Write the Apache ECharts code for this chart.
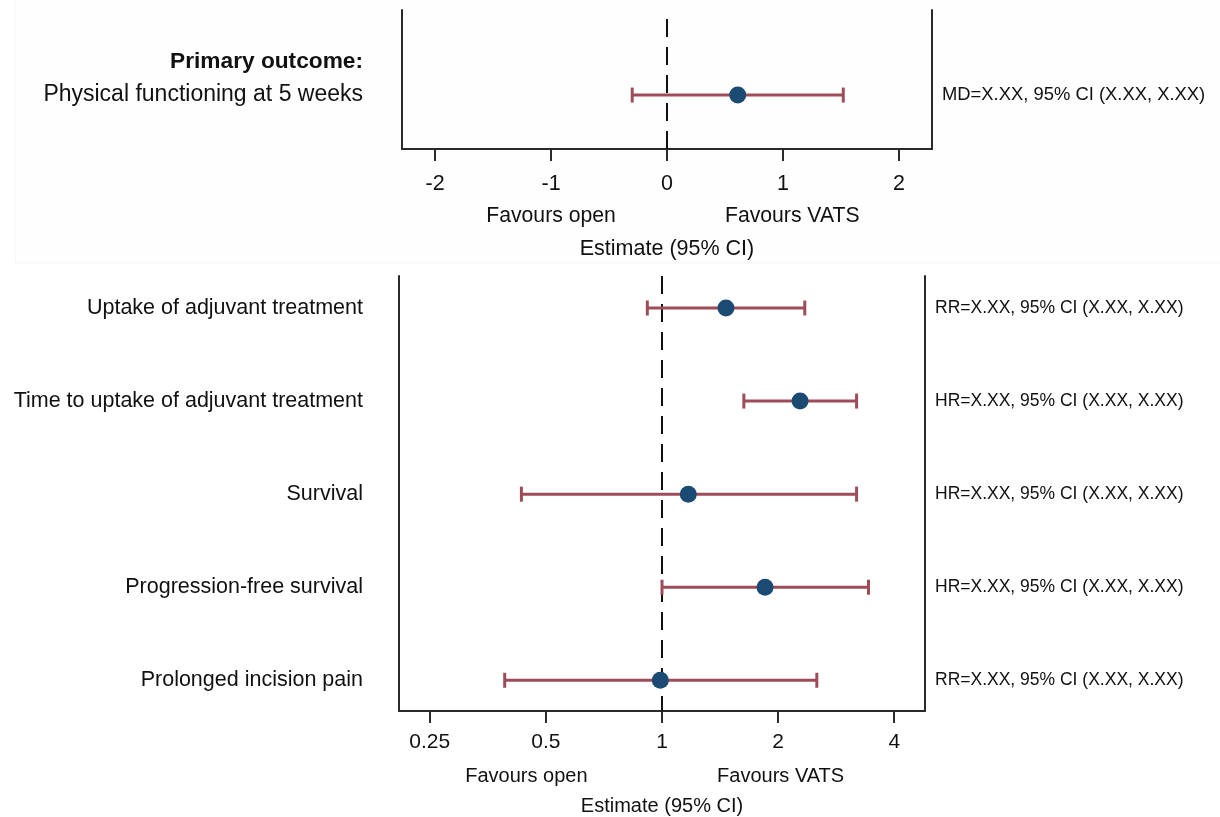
<!DOCTYPE html>
<html>
<head>
<meta charset="utf-8">
<script src="https://cdn.jsdelivr.net/npm/echarts@6/dist/echarts.min.js"></script>
<style>
  html, body { margin: 0; padding: 0; background: #ffffff; }
  #chart { width: 1220px; height: 817px; }
</style>
</head>
<body>
<div id="chart"></div>
<script>
// ---- Primary outcome (mean difference scale) ----
const primaryHeader = 'Primary outcome:';
const primaryOutcome = ['Physical functioning at 5 weeks'];
const primaryEstimate = [0.61];
const primaryLower = [-0.30];
const primaryUpper = [1.52];
const primaryStats = ['MD=X.XX, 95% CI (X.XX, X.XX)'];
const primaryTicks = [-2, -1, 0, 1, 2];

// ---- Secondary outcomes (ratio scale, log2 positions) ----
const outcomes = [
  'Uptake of adjuvant treatment',
  'Time to uptake of adjuvant treatment',
  'Survival',
  'Progression-free survival',
  'Prolonged incision pain'
];
const estimates = [1.465, 2.28, 1.17, 1.85, 0.99];
const lower = [0.916, 1.63, 0.432, 1.00, 0.391];
const upper = [2.345, 3.195, 3.195, 3.43, 2.52];
const stats = [
  'RR=X.XX, 95% CI (X.XX, X.XX)',
  'HR=X.XX, 95% CI (X.XX, X.XX)',
  'HR=X.XX, 95% CI (X.XX, X.XX)',
  'HR=X.XX, 95% CI (X.XX, X.XX)',
  'RR=X.XX, 95% CI (X.XX, X.XX)'
];
const ratioTicks = [0.25, 0.5, 1, 2, 4];

// ---- Axis annotations ----
const favourLabels = ['Favours open', 'Favours VATS'];
const favourPosPrimary = [-1.0, 1.08];
const favourPosRatio = [0.445, 2.03];
const axisTitle = 'Estimate (95% CI)';

const FONT = 'Liberation Sans, Arial, sans-serif';
const TEXT = '#111111';
const AXIS = '#2a2a2a';
const CI_COLOR = '#9e4c58';
const DOT_COLOR = '#1b4a72';

// rows of the upper panel on a 0..1 vertical scale
const primaryRowY = 0.388;
const headerRowY = 0.63;

const log2 = v => Math.log(v) / Math.log(2);
const ratioTickPos = ratioTicks.map(log2);
const favourRatioPos = favourPosRatio.map(log2);

function ciRenderer(params, api) {
  const lo = api.coord([api.value(0), api.value(2)]);
  const hi = api.coord([api.value(1), api.value(2)]);
  const h = 7.5;
  const style = { stroke: CI_COLOR, lineWidth: 3, fill: null };
  return {
    type: 'group',
    children: [
      { type: 'line', shape: { x1: lo[0], y1: lo[1], x2: hi[0], y2: hi[1] }, style: style },
      { type: 'line', shape: { x1: lo[0], y1: lo[1] - h, x2: lo[0], y2: lo[1] + h }, style: style },
      { type: 'line', shape: { x1: hi[0], y1: hi[1] - h, x2: hi[0], y2: hi[1] + h }, style: style }
    ]
  };
}

const axisLineStyle = { show: true, onZero: false, lineStyle: { color: AXIS, width: 2 } };

function nearestIndex(arr, v) {
  let best = 0;
  for (let i = 1; i < arr.length; i++) {
    if (Math.abs(arr[i] - v) < Math.abs(arr[best] - v)) best = i;
  }
  return best;
}

const refLine = {
  silent: true,
  symbol: ['none', 'none'],
  label: { show: false },
  lineStyle: { color: '#111', width: 2, type: [18, 10] },
  z: 1
};

const option = {
  animation: false,
  backgroundColor: '#ffffff',
  textStyle: { fontFamily: FONT, color: TEXT },
  // faint backdrop behind the primary-outcome panel
  graphic: [{
    type: 'rect', z: -10, silent: true,
    shape: { x: 15, y: -2, width: 1210, height: 265 },
    style: { fill: '#fefefe', stroke: '#f5f5f5', lineWidth: 1 }
  }],
  grid: [
    { left: 402, top: 10, width: 530, height: 139, outerBoundsMode: 'none' },
    { left: 399, top: 276, width: 526, height: 435, outerBoundsMode: 'none' }
  ],
  xAxis: [
    {
      gridIndex: 0, type: 'value', position: 'bottom',
      min: -2.285, max: 2.285,
      axisLine: axisLineStyle,
      axisTick: { show: true, length: 12, customValues: primaryTicks, lineStyle: { color: AXIS, width: 2 } },
      axisLabel: { customValues: primaryTicks, margin: 24, fontSize: 21.5, color: TEXT, fontFamily: FONT,
                   formatter: v => String(Math.round(v)) },
      splitLine: { show: false },
      name: axisTitle, nameLocation: 'middle', nameGap: 89,
      nameTextStyle: { fontSize: 21.5, color: TEXT, fontFamily: FONT }
    },
    {
      gridIndex: 0, type: 'value', position: 'bottom',
      min: -2.285, max: 2.285,
      axisLine: { show: false, onZero: false }, axisTick: { show: false }, splitLine: { show: false },
      axisLabel: { customValues: favourPosPrimary, margin: 57, fontSize: 21.2, color: TEXT, fontFamily: FONT,
                   formatter: v => favourLabels[nearestIndex(favourPosPrimary, v)] }
    },
    {
      gridIndex: 1, type: 'value', position: 'bottom',
      min: -2.265, max: 2.265,
      axisLine: axisLineStyle,
      axisTick: { show: true, length: 12, customValues: ratioTickPos, lineStyle: { color: AXIS, width: 2 } },
      axisLabel: { customValues: ratioTickPos, margin: 21, fontSize: 21, color: TEXT, fontFamily: FONT,
                   formatter: v => String(ratioTicks[nearestIndex(ratioTickPos, v)]) },
      splitLine: { show: false },
      name: axisTitle, nameLocation: 'middle', nameGap: 85,
      nameTextStyle: { fontSize: 20, color: TEXT, fontFamily: FONT }
    },
    {
      gridIndex: 1, type: 'value', position: 'bottom',
      min: -2.265, max: 2.265,
      axisLine: { show: false, onZero: false }, axisTick: { show: false }, splitLine: { show: false },
      axisLabel: { customValues: favourRatioPos, margin: 55, fontSize: 20, color: TEXT, fontFamily: FONT,
                   formatter: v => favourLabels[nearestIndex(favourRatioPos, v)] }
    }
  ],
  yAxis: [
    {
      gridIndex: 0, type: 'value', position: 'left', min: 0, max: 1,
      axisLine: axisLineStyle, axisTick: { show: false }, splitLine: { show: false },
      axisLabel: {
        customValues: [primaryRowY, headerRowY], margin: 39, fontSize: 23, color: TEXT, fontFamily: FONT,
        formatter: v => Math.abs(v - headerRowY) < 0.01 ? '{b|' + primaryHeader + '}' : primaryOutcome[0],
        rich: { b: { fontWeight: 'bold', fontSize: 22.7, color: TEXT, fontFamily: FONT } }
      }
    },
    {
      gridIndex: 0, type: 'value', position: 'right', min: 0, max: 1,
      axisLine: axisLineStyle, axisTick: { show: false }, splitLine: { show: false },
      axisLabel: { customValues: [primaryRowY], margin: 10, fontSize: 18.4, color: TEXT, fontFamily: FONT,
                   formatter: () => primaryStats[0] }
    },
    {
      gridIndex: 1, type: 'value', position: 'left', inverse: true, min: -0.344, max: 4.33,
      axisLine: axisLineStyle, axisTick: { show: false }, splitLine: { show: false },
      axisLabel: { customValues: outcomes.map((_, i) => i), margin: 36, fontSize: 21.5, color: TEXT, fontFamily: FONT,
                   formatter: v => outcomes[Math.round(v)] }
    },
    {
      gridIndex: 1, type: 'value', position: 'right', inverse: true, min: -0.344, max: 4.33,
      axisLine: axisLineStyle, axisTick: { show: false }, splitLine: { show: false },
      axisLabel: { customValues: outcomes.map((_, i) => i), margin: 10, fontSize: 17.5, color: TEXT, fontFamily: FONT,
                   formatter: v => stats[Math.round(v)] }
    }
  ],
  series: [
    {
      type: 'custom', xAxisIndex: 0, yAxisIndex: 0,
      renderItem: ciRenderer,
      encode: { x: [0, 1], y: 2 },
      data: primaryLower.map((lo, i) => [lo, primaryUpper[i], primaryRowY]),
      z: 3
    },
    {
      type: 'scatter', xAxisIndex: 0, yAxisIndex: 0,
      symbol: 'circle', symbolSize: 17,
      itemStyle: { color: DOT_COLOR, opacity: 1 },
      data: primaryEstimate.map(e => [e, primaryRowY]),
      markLine: Object.assign({ data: [{ xAxis: 0 }] }, refLine),
      z: 4
    },
    {
      type: 'custom', xAxisIndex: 2, yAxisIndex: 2,
      renderItem: ciRenderer,
      encode: { x: [0, 1], y: 2 },
      data: lower.map((lo, i) => [log2(lo), log2(upper[i]), i]),
      z: 3
    },
    {
      type: 'scatter', xAxisIndex: 2, yAxisIndex: 2,
      symbol: 'circle', symbolSize: 17,
      itemStyle: { color: DOT_COLOR, opacity: 1 },
      data: estimates.map((e, i) => [log2(e), i]),
      markLine: Object.assign({ data: [{ xAxis: 0 }] }, refLine),
      z: 4
    }
  ]
};

const chart = echarts.init(document.getElementById('chart'), null, { renderer: 'canvas' });
chart.setOption(option);
</script>
</body>
</html>
